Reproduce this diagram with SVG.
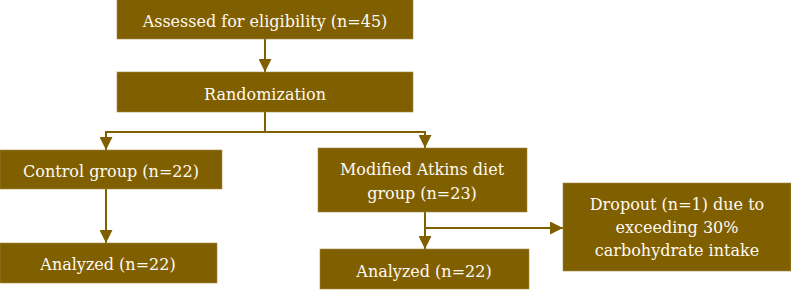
<svg xmlns="http://www.w3.org/2000/svg" width="791" height="290" viewBox="0 0 791 290">
<defs>
<style>
.box{fill:#7f5f00;stroke:#a08a4a;stroke-width:0.6}
.t{font-family:"DejaVu Serif","Liberation Serif",serif;font-size:16px;fill:#fffaf0;text-anchor:middle}
.c{stroke:#7f5f00;stroke-width:2;fill:none}
</style>
<marker id="ah" viewBox="0 0 10 10" refX="10" refY="5" markerWidth="6.5" markerHeight="6.5" markerUnits="strokeWidth" orient="auto">
<path d="M0,0 L10,5 L0,10 z" fill="#7f5f00"/>
</marker>
</defs>
<g id="connectors">
<line class="c" x1="265" y1="39" x2="265" y2="72" marker-end="url(#ah)"/>
<polyline class="c" points="265,112 265,132 106,132 106,150" marker-end="url(#ah)"/>
<polyline class="c" points="265,132 425,132 425,148" marker-end="url(#ah)"/>
<line class="c" x1="106" y1="189" x2="106" y2="243" marker-end="url(#ah)"/>
<line class="c" x1="425" y1="212" x2="425" y2="249" marker-end="url(#ah)"/>
<polyline class="c" points="425,228 563,228" marker-end="url(#ah)"/>
</g>
<g id="assessed"><rect class="box" x="117" y="-1" width="296" height="40"/><text class="t" x="265" y="27">Assessed for eligibility (n=45)</text></g>
<g id="randomization"><rect class="box" x="117" y="72" width="296" height="40"/><text class="t" x="265" y="100">Randomization</text></g>
<g id="control"><rect class="box" x="0" y="150" width="222" height="39"/><text class="t" x="111" y="177">Control group (n=22)</text></g>
<g id="analyzed-left"><rect class="box" x="0" y="243" width="217" height="40"/><text class="t" x="108" y="270">Analyzed (n=22)</text></g>
<g id="atkins"><rect class="box" x="318" y="148" width="209" height="64"/><text class="t" x="422" y="175">Modified Atkins diet</text><text class="t" x="422" y="199">group (n=23)</text></g>
<g id="analyzed-right"><rect class="box" x="320" y="249" width="209" height="40"/><text class="t" x="424" y="277">Analyzed (n=22)</text></g>
<g id="dropout"><rect class="box" x="563" y="183" width="228" height="88"/><text class="t" x="677" y="210">Dropout (n=1) due to</text><text class="t" x="677" y="233">exceeding 30%</text><text class="t" x="677" y="256">carbohydrate intake</text></g>
</svg>
